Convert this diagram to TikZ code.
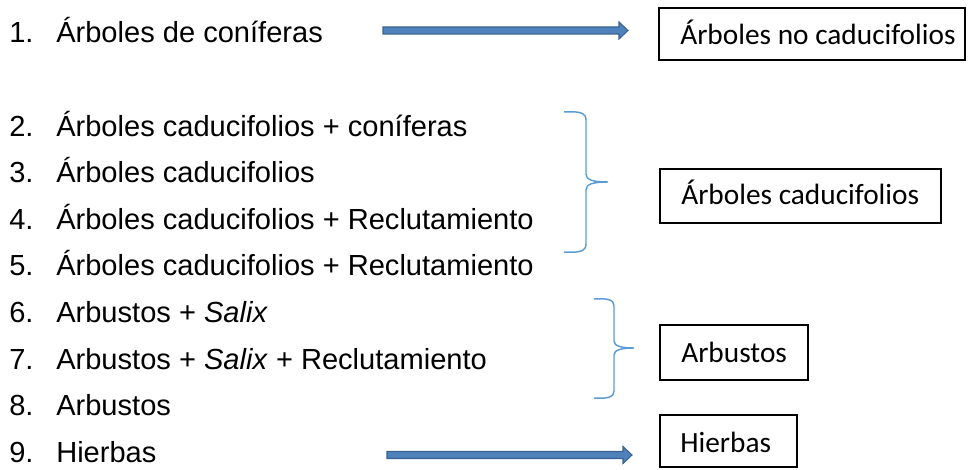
\documentclass[tikz,border=0pt]{standalone}
\usepackage{fontspec}
\setmainfont{Liberation Sans}
\newfontfamily\boxfont{Carlito}
\usetikzlibrary{calc}
\definecolor{arrfill}{HTML}{4F81BD}
\definecolor{arrline}{HTML}{3A6291}
\definecolor{bracecol}{HTML}{5B9BD5}
\tikzset{
  item/.style={anchor=base west, inner sep=0pt, font=\fontsize{21.8}{26}\selectfont},
  boxframe/.style={draw=black, line width=1.1pt, inner sep=0pt},
  boxtext/.style={anchor=base west, inner sep=0pt, font=\boxfont\fontsize{22}{26}\selectfont},
  blockarr/.style={fill=arrfill, draw=arrline, line width=0.8pt, line join=miter},
  bracestyle/.style={draw=bracecol, line width=1.1pt}
}
\newcommand\blockarrow[2]{%
  \filldraw[blockarr] ($(#1)+(0,-3.5)$) -- ($(#2)+(-9,-3.5)$) -- ($(#2)+(-9,-8.5)$) -- (#2)
    -- ($(#2)+(-9,8.5)$) -- ($(#2)+(-9,3.5)$) -- ($(#1)+(0,3.5)$) -- cycle;}
\begin{document}
\begin{tikzpicture}[x=0.75pt,y=-0.75pt]
\useasboundingbox (0,0) rectangle (972,470);
% list
\node[item] (n1) at (9,43) {1.};
\node[item] (i1) at (56,43) {Árboles de coníferas};
\node[item] (n2) at (9,136.5) {2.};
\node[item] (i2) at (56,136.5) {Árboles caducifolios + coníferas};
\node[item] (n3) at (9,183) {3.};
\node[item] (i3) at (56,183) {Árboles caducifolios};
\node[item] (n4) at (9,229.5) {4.};
\node[item] (i4) at (56,229.5) {Árboles caducifolios + Reclutamiento};
\node[item] (n5) at (9,276) {5.};
\node[item] (i5) at (56,276) {Árboles caducifolios + Reclutamiento};
\node[item] (n6) at (9,323) {6.};
\node[item] (i6) at (56,323) {Arbustos + \textit{Salix}};
\node[item] (n7) at (9,369.5) {7.};
\node[item] (i7) at (56,369.5) {Arbustos + \textit{Salix} + Reclutamiento};
\node[item] (n8) at (9,416) {8.};
\node[item] (i8) at (56,416) {Arbustos};
\node[item] (n9) at (9,463) {9.};
\node[item] (i9) at (56,463) {Hierbas};
% boxes
\node[boxframe, minimum width=229.5pt, minimum height=39pt] (b1) at (812,34) {};
\node[boxtext] (t1) at (680,45) {Árboles no caducifolios};
\node[boxframe, minimum width=210.75pt, minimum height=40.5pt] (b2) at (800.5,196) {};
\node[boxtext] (t2) at (681,205) {Árboles caducifolios};
\node[boxframe, minimum width=111pt, minimum height=41.25pt] (b3) at (734,352.5) {};
\node[boxtext] (t3) at (681,363) {Arbustos};
\node[boxframe, minimum width=102.75pt, minimum height=39pt] (b4) at (728.5,441) {};
\node[boxtext] (t4) at (680,453) {Hierbas};
% arrows
\coordinate (a1s) at (383,30.5);
\coordinate (a1e) at (628,30.5);
\coordinate (a2s) at (387,455);
\coordinate (a2e) at (632,455);
\blockarrow{a1s}{a1e}
\blockarrow{a2s}{a2e}
% braces
\draw[bracestyle] (564,112) .. controls (580,111) and (586,113) .. (586,120) -- (586,174)
  .. controls (586,180) and (593,182) .. (608,182)
  .. controls (593,182) and (586,184) .. (586,190) -- (586,244)
  .. controls (586,251) and (580,253) .. (564,252);
\draw[bracestyle] (594,299) .. controls (608,298) and (614,300) .. (614,306) -- (614,341)
  .. controls (614,346) and (621,348) .. (634,348)
  .. controls (621,348) and (614,350) .. (614,355) -- (614,391)
  .. controls (614,397) and (608,399) .. (594,398);
\end{tikzpicture}
\end{document}
